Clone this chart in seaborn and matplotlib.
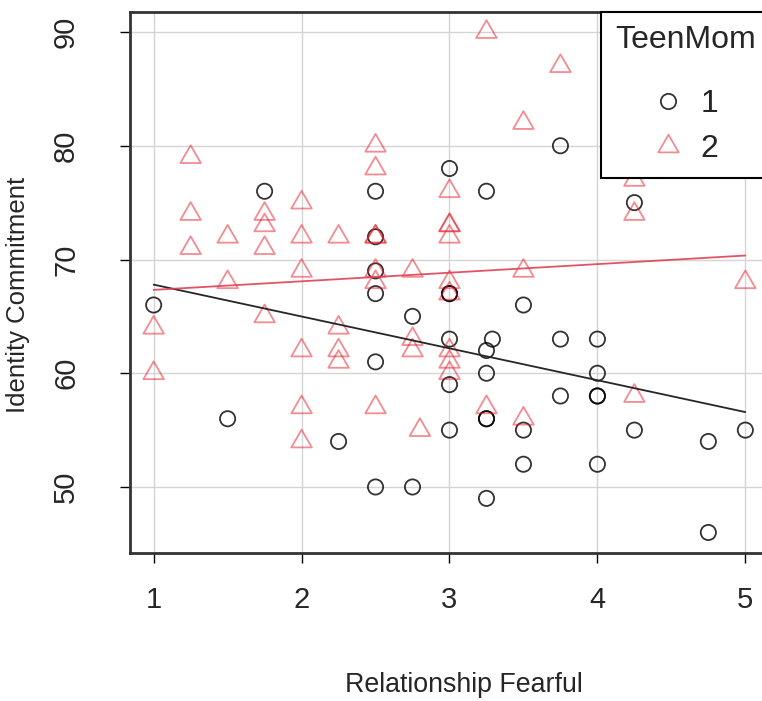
import matplotlib
matplotlib.use("Agg")
import matplotlib.pyplot as plt
import seaborn as sns
import pandas as pd
from matplotlib.lines import Line2D
from matplotlib.path import Path

sns.set_theme(style="white")
plt.rcParams['font.family'] = ['Liberation Sans', 'DejaVu Sans']

# TeenMom = 1 (circles)
x1 = [1, 1.5, 1.75, 2.25, 2.5, 2.5, 2.5, 2.5, 2.5, 2.5, 2.75, 2.75,
      3, 3, 3, 3, 3, 3, 3.25, 3.29, 3.25, 3.25, 3.25, 3.25, 3.25,
      3.5, 3.5, 3.5, 3.75, 3.75, 3.75, 4, 4, 4, 4, 4, 4.25, 4.25,
      4.75, 4.75, 5]
y1 = [66, 56, 76, 54, 76, 72, 69, 67, 61, 50, 65, 50,
      78, 67, 67, 63, 59, 55, 76, 63, 62, 60, 56, 56, 49,
      66, 55, 52, 80, 63, 58, 63, 60, 58, 58, 52, 75, 55,
      54, 46, 55]

# TeenMom = 2 (triangles)
x2 = [1, 1, 1.25, 1.25, 1.25, 1.5, 1.5, 1.75, 1.75, 1.75, 1.75,
      2, 2, 2, 2, 2, 2, 2.25, 2.25, 2.25, 2.25,
      2.5, 2.5, 2.5, 2.5, 2.5, 2.5, 2.5, 2.75, 2.75, 2.75, 2.8,
      3, 3, 3, 3, 3, 3, 3, 3, 3, 3.25, 3.25, 3.5, 3.5, 3.5, 3.75,
      4.25, 4.25, 4.25, 5]
y2 = [64, 60, 79, 74, 71, 72, 68, 74, 73, 71, 65,
      75, 72, 69, 62, 57, 54, 72, 64, 62, 61,
      80, 78, 72, 72, 69, 68, 57, 69, 63, 62, 55,
      76, 73, 73, 72, 68, 67, 62, 61, 60, 90, 57, 82, 69, 56, 87,
      77, 74, 58, 68]

groups = ["1", "2"]
xticks = [1, 2, 3, 4, 5]
yticks = [50, 60, 70, 80, 90]

df = pd.DataFrame({
    "fear": x1 + x2,
    "commit": y1 + y2,
    "TeenMom": [groups[0]] * len(x1) + [groups[1]] * len(x2),
})
d1 = df[df.TeenMom == groups[0]]
d2 = df[df.TeenMom == groups[1]]

tri = Path([(0, 1), (-0.866, -0.5), (0.866, -0.5), (0, 1)],
           [Path.MOVETO, Path.LINETO, Path.LINETO, Path.CLOSEPOLY])

black_c = (0.0, 0.0, 0.0, 0.8)
red_c = (0.9, 0.1, 0.15, 0.5)
redline = (0.88, 0.25, 0.33, 0.9)

fig = plt.figure(figsize=(7.62, 7.01), dpi=100)
ax = fig.add_axes([130 / 762, 1 - 552.5 / 701, (769 - 130) / 762, (552.5 - 12) / 701])

ax.grid(True, color='#d4d4d4', lw=1.0)
ax.set_axisbelow(True)

sns.scatterplot(data=d1, x="fear", y="commit", ax=ax, marker='o', s=120,
                facecolors='none', edgecolor=black_c, linewidth=1.3, legend=False)
sns.scatterplot(data=d2, x="fear", y="commit", ax=ax, marker=tri, s=290,
                facecolors='none', edgecolor=red_c, linewidth=1.3, legend=False)

sns.regplot(data=d1, x="fear", y="commit", ax=ax, scatter=False, ci=None,
            truncate=True, line_kws=dict(color=(0.15, 0.15, 0.15), lw=1.3))
sns.regplot(data=d2, x="fear", y="commit", ax=ax, scatter=False, ci=None,
            truncate=True, line_kws=dict(color=redline, lw=1.3))

ax.set_xlim(0.84, 5.16)
ax.set_ylim(44.24, 91.76)
ax.set_xticks(xticks)
ax.set_yticks(yticks)
ax.set_xticklabels([str(v) for v in xticks], fontsize=21)
ax.set_yticklabels([str(v) for v in yticks], fontsize=21, rotation=90, va='center')
ax.tick_params(axis='x', direction='out', length=7, width=1, pad=17, color='black', bottom=True)
ax.tick_params(axis='y', direction='out', length=7, width=1, pad=29, color='black', left=True)

for sp in ax.spines.values():
    sp.set_color('#333333')
    sp.set_linewidth(2)

ax.set_xlabel("")
ax.set_ylabel("")
fig.text(464 / 762, 1 - 685 / 701, "Relationship Fearful", fontsize=19.3,
         ha='center', va='center')
fig.text(18 / 762, 1 - 295 / 701, "Identity Commitment", fontsize=18.5,
         ha='center', va='center', rotation=90)

handles = [
    Line2D([], [], ls='', marker='o', markersize=11, markerfacecolor='none',
           markeredgecolor=black_c, markeredgewidth=1.3),
    Line2D([], [], ls='', marker=tri, markersize=17, markerfacecolor='none',
           markeredgecolor=red_c, markeredgewidth=1.3),
]
leg = ax.legend(handles, groups, title="TeenMom", loc='upper right',
                bbox_to_anchor=(1, 1), borderaxespad=0, frameon=True,
                fancybox=False, edgecolor='black', framealpha=1,
                fontsize=23, title_fontsize=23, borderpad=0.42,
                labelspacing=0.48, handletextpad=0.5, handlelength=1.0)
leg._legend_box.sep = 24
leg.get_frame().set_linewidth(1.5)

fig.savefig("out.png", dpi=100)
